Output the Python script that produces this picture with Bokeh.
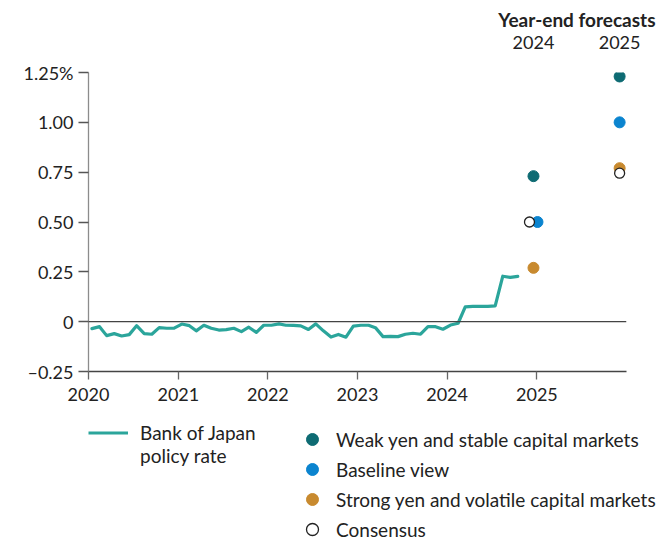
import pandas as pd
from bokeh.plotting import figure
from bokeh.layouts import column, row
from bokeh.models import (Range1d, Span, Legend, LegendItem, FixedTicker,
                          ColumnDataSource, DatetimeAxis)
from bokeh.embed import file_html
from bokeh.resources import INLINE

# ---------------- data ----------------
policy_rate = [
    -0.035, -0.025, -0.070, -0.060, -0.072, -0.065, -0.020, -0.060, -0.063, -0.030, -0.033, -0.032,
    -0.012, -0.020, -0.046, -0.018, -0.033, -0.042, -0.040, -0.033, -0.050, -0.028, -0.054, -0.018,
    -0.018, -0.011, -0.018, -0.019, -0.021, -0.039, -0.011, -0.046, -0.077, -0.064, -0.078, -0.022,
    -0.018, -0.018, -0.030, -0.075, -0.074, -0.075, -0.063, -0.058, -0.063, -0.025, -0.025, -0.038,
    -0.017, -0.008, 0.074, 0.077, 0.077, 0.077, 0.079, 0.228, 0.222, 0.227,
]
forecast_years = ["2024", "2025"]
forecast_dates = ["2024-12-18", "2025-12-04"]
weak_yen = [0.73, 1.23]
baseline = [0.50, 1.00]
strong_yen = [0.27, 0.77]
consensus = [0.50, 0.745]

year_ticks = ["2020", "2021", "2022", "2023", "2024", "2025"]
y_ticks = [-0.25, 0.0, 0.25, 0.50, 0.75, 1.00, 1.25]
y_tick_labels = ["\u20130.25", "0", "0.25", "0.50", "0.75", "1.00", "1.25%"]

title_text = "Year-end forecasts"
legend_line_label = ["Bank of Japan", "policy rate"]
legend_labels = ["Weak yen and stable capital markets", "Baseline view",
                 "Strong yen and volatile capital markets", "Consensus"]

# ---------------- style ----------------
FONT = "Lato"
TXT = "#222222"
C_LINE = "#2ba59b"
C_WEAK = "#0e6b73"
C_BASE = "#0b84cf"
C_STRONG = "#c88a2f"
C_CONS_LINE = "#222222"
TICK_FS = "18px"
LEG_FS = "19px"

W = 660
H1, H2 = 410, 131
X0, X1 = pd.Timestamp("2020-01-01"), pd.Timestamp("2026-01-01")

p = figure(width=W, height=H1, output_backend="svg", toolbar_location=None,
           x_axis_type="datetime", x_range=Range1d(X0, X1), y_range=Range1d(-0.25, 1.25),
           min_border_left=88, min_border_right=34, min_border_top=72, min_border_bottom=39)
p.outline_line_color = None
p.grid.visible = False

# policy-rate line
dates = pd.date_range("2020-01-01", periods=len(policy_rate), freq="MS") + pd.Timedelta(days=14)
src = ColumnDataSource(dict(x=dates, y=policy_rate))
p.add_layout(Span(location=0, dimension="width", line_color="#444444", line_width=1.3))
p.line("x", "y", source=src, line_color=C_LINE, line_width=3.2,
       line_join="round", line_cap="round")

# forecasts: small horizontal dodge where consensus coincides with baseline
fx = [pd.Timestamp(d) for d in forecast_dates]
px = (X1 - X0) / 538
base_x = [x + (4 * px if abs(b - c) < 0.03 else pd.Timedelta(0)) for x, b, c in zip(fx, baseline, consensus)]
cons_x = [x - (4 * px if abs(b - c) < 0.03 else pd.Timedelta(0)) for x, b, c in zip(fx, baseline, consensus)]

p.scatter(fx, weak_yen, size=11, fill_color=C_WEAK, line_color=C_WEAK)
p.scatter(base_x, baseline, size=11, fill_color=C_BASE, line_color=C_BASE)
p.scatter(fx, strong_yen, size=11, fill_color=C_STRONG, line_color=C_STRONG)
p.scatter(cons_x, consensus, size=10, fill_color="white", line_color=C_CONS_LINE, line_width=1.3)

# y axis
yax = p.yaxis[0]
yax.ticker = FixedTicker(ticks=y_ticks)
yax.major_label_overrides = {t: l for t, l in zip(y_ticks, y_tick_labels)}
yax.axis_line_color = "#8c8c8c"
yax.axis_line_width = 1.3
yax.major_tick_line_color = "#555555"
yax.major_tick_line_width = 1.3
yax.major_tick_in = 0
yax.major_tick_out = 10
yax.minor_tick_line_color = None
yax.major_label_standoff = 5
yax.major_label_text_font = FONT
yax.major_label_text_font_size = TICK_FS
yax.major_label_text_color = TXT

# bottom x axis
xt = [pd.Timestamp(f"{y}-01-01").value // 10**6 for y in year_ticks]
xax = p.xaxis[0]
xax.ticker = FixedTicker(ticks=xt)
xax.major_label_overrides = {t: l for t, l in zip(xt, year_ticks)}
xax.axis_line_color = "#444444"
xax.axis_line_width = 1.3
xax.major_tick_line_color = "#666666"
xax.major_tick_line_width = 1.3
xax.major_tick_in = 0
xax.major_tick_out = 8
xax.minor_tick_line_color = None
xax.major_label_standoff = 8
xax.major_label_text_font = FONT
xax.major_label_text_font_size = TICK_FS
xax.major_label_text_color = TXT

# top axis carrying the forecast-year headers
ft = [d.value // 10**6 for d in fx]
top = DatetimeAxis(ticker=FixedTicker(ticks=ft),
                   major_label_overrides={t: l for t, l in zip(ft, forecast_years)})
top.axis_line_color = None
top.major_tick_line_color = None
top.minor_tick_line_color = None
top.major_label_standoff = 18
top.major_label_text_font = FONT
top.major_label_text_font_size = TICK_FS
top.major_label_text_color = TXT
p.add_layout(top, "above")

p.title.text = title_text
p.title.align = "right"
p.title.offset = -29
p.title.standoff = 3
p.title.text_font = FONT
p.title.text_font_size = LEG_FS
p.title.text_font_style = "bold"
p.title.text_color = TXT

# ---------------- legend panel ----------------
q = figure(width=W, height=H2, output_backend="svg", toolbar_location=None,
           x_axis_location=None, y_axis_location=None,
           x_range=Range1d(0, 1), y_range=Range1d(0, 1),
           min_border=0, min_border_left=0, min_border_right=0,
           min_border_top=0, min_border_bottom=0)
q.outline_line_color = None
q.grid.visible = False
nan = [float("nan")]
k_line = q.line(nan, nan, line_color=C_LINE, line_width=3.2)
k_blank = q.line(nan, nan, line_alpha=0)
k_weak = q.scatter(nan, nan, fill_color=C_WEAK, line_color=C_WEAK)
k_base = q.scatter(nan, nan, fill_color=C_BASE, line_color=C_BASE)
k_strong = q.scatter(nan, nan, fill_color=C_STRONG, line_color=C_STRONG)
k_cons = q.scatter(nan, nan, fill_color="white", line_color=C_CONS_LINE, line_width=1.3)

common = dict(padding=0, margin=0, border_line_color=None, background_fill_alpha=0,
              label_text_font=FONT, label_text_font_size=LEG_FS, label_text_color=TXT)
leg1 = Legend(items=[LegendItem(label=l, renderers=[r]) for l, r in
                     zip(legend_line_label, [k_line, k_blank])],
              location=(88, 74), glyph_width=40, glyph_height=23, label_height=23,
              label_standoff=12, spacing=0, **common)
leg2 = Legend(items=[LegendItem(label=l, renderers=[r]) for l, r in
                     zip(legend_labels, [k_weak, k_base, k_strong, k_cons])],
              location=(296, -3), glyph_width=32, glyph_height=30, label_height=30,
              label_standoff=8, spacing=0, **common)
q.add_layout(leg1)
q.add_layout(leg2)

open("out.html", "w").write(file_html(column(p, row(q), spacing=0), INLINE))
